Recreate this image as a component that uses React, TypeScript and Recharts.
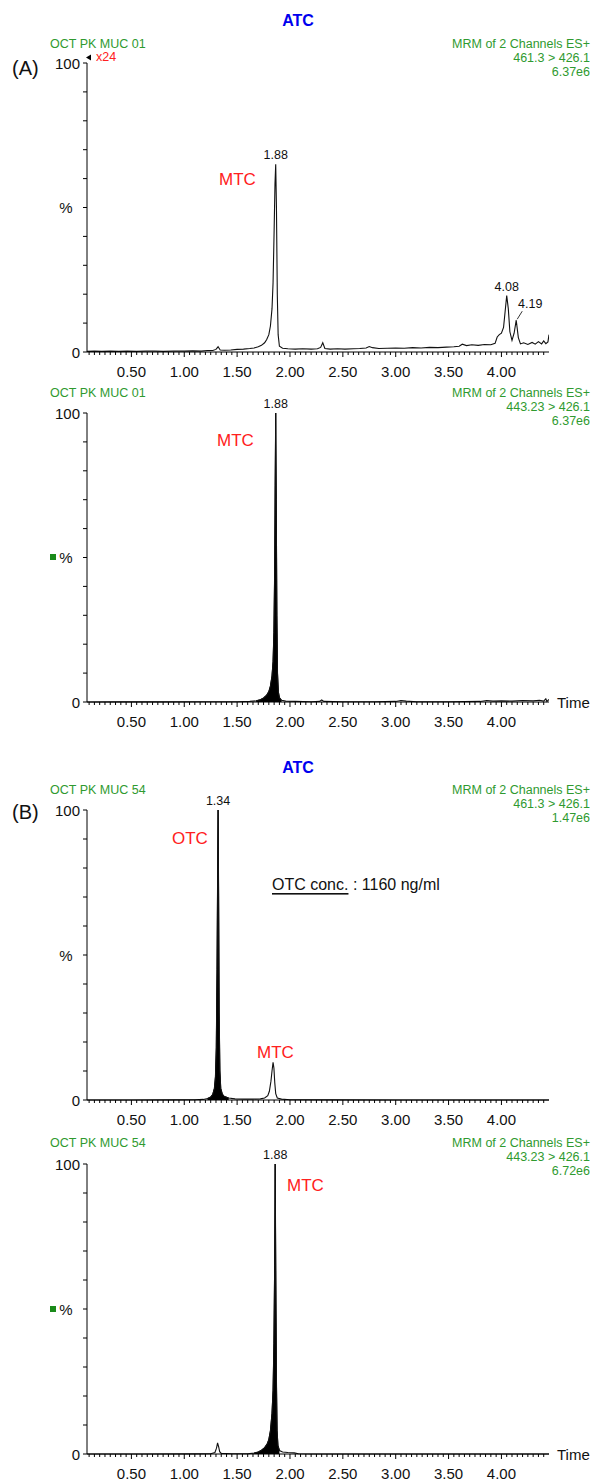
import React from "react";
import { ComposedChart, Line, Area, XAxis, YAxis, LabelList } from "recharts";

const FONT = "'Liberation Sans', Arial, Helvetica, sans-serif";
const GREEN = "#2f9a2f";
const RED = "#ff2020";

// axis ticks
const timeLabels = [0.5, 1.0, 1.5, 2.0, 2.5, 3.0, 3.5, 4.0];
const minorTicks = Array.from({ length: 87 }, (_, i) => Math.round((0.1 + i * 0.05) * 100) / 100);
const yTicks = [0, 10, 20, 30, 40, 50, 60, 70, 80, 90, 100];
const leaderLabels = ["4.19"];

// (A) OCT PK MUC 01, 461.3 > 426.1 (x24)  [time, %]
const a1Trace = [
  [0.08, 0.2], [0.15, 0.3], [0.22, 0.2], [0.3, 0.3], [0.38, 0.2], [0.46, 0.3], [0.55, 0.2],
  [0.64, 0.3], [0.72, 0.3], [0.8, 0.2], [0.9, 0.3], [1.0, 0.3], [1.08, 0.4], [1.16, 0.3],
  [1.22, 0.5], [1.27, 0.5], [1.3, 0.9], [1.32, 1.8], [1.34, 0.7], [1.38, 0.6], [1.44, 0.7],
  [1.5, 0.9], [1.56, 1.0], [1.62, 1.2], [1.66, 1.4], [1.7, 1.8], [1.73, 2.3], [1.76, 3.2],
  [1.78, 4.3], [1.8, 6], [1.815, 9], [1.83, 15], [1.84, 24], [1.85, 42], [1.858, 58],
  [1.865, 65], [1.872, 50], [1.88, 20], [1.888, 6], [1.9, 2.0], [1.93, 1.3], [1.98, 1.1],
  [2.05, 1.0], [2.12, 1.1], [2.2, 1.0], [2.26, 1.1], [2.29, 1.6], [2.31, 3.2], [2.33, 1.2],
  [2.38, 1.0], [2.45, 1.1], [2.52, 1.0], [2.6, 1.1], [2.66, 1.2], [2.72, 1.4], [2.75, 1.9],
  [2.78, 1.5], [2.84, 1.2], [2.92, 1.3], [3.0, 1.4], [3.08, 1.3], [3.16, 1.5], [3.24, 1.4],
  [3.32, 1.6], [3.4, 1.5], [3.48, 1.7], [3.55, 1.8], [3.6, 2.0], [3.63, 2.7], [3.67, 2.2],
  [3.72, 2.5], [3.78, 2.3], [3.84, 2.6], [3.9, 2.5], [3.94, 3.0], [3.96, 5.2], [3.98, 6.0],
  [4.0, 6.5], [4.02, 8.5], [4.035, 14], [4.05, 19.5], [4.065, 15], [4.08, 7], [4.1, 4],
  [4.12, 6.5], [4.14, 11], [4.16, 5], [4.18, 2.8], [4.21, 3.2], [4.25, 2.6], [4.29, 3.3],
  [4.32, 2.7], [4.35, 3.6], [4.38, 2.8], [4.4, 3.8], [4.42, 2.9], [4.44, 3.5], [4.45, 6],
];
const a1Peaks: [string, number][] = [["1.88", 1.865], ["4.08", 4.05], ["4.19", 4.14]];

// (A) OCT PK MUC 01, 443.23 > 426.1
const a2Trace = [
  [0.08, 0], [0.4, 0.05], [0.8, 0.05], [1.2, 0.1], [1.5, 0.1], [1.62, 0.2], [1.68, 0.4],
  [1.72, 0.8], [1.75, 1.4], [1.78, 2.4], [1.8, 3.6], [1.815, 5.5], [1.83, 9], [1.84, 14],
  [1.848, 24], [1.855, 45], [1.86, 75], [1.865, 100], [1.87, 70], [1.876, 30], [1.882, 10],
  [1.89, 3.5], [1.9, 1.5], [1.92, 0.6], [1.96, 0.3], [2.05, 0.2], [2.2, 0.1], [2.28, 0.2],
  [2.3, 0.7], [2.32, 0.2], [2.5, 0.1], [2.8, 0.1], [3.0, 0.2], [3.05, 0.5], [3.1, 0.3],
  [3.2, 0.1], [3.5, 0.1], [3.8, 0.2], [3.86, 0.5], [3.92, 0.3], [4.0, 0.4], [4.1, 0.3],
  [4.2, 0.5], [4.3, 0.4], [4.36, 0.6], [4.4, 0.3], [4.42, 1.1], [4.43, 0.2], [4.45, 0.9],
];
const a2Peaks: [string, number][] = [["1.88", 1.865]];
const a2Filled = [1.68, 1.92];

// (B) OCT PK MUC 54, 461.3 > 426.1
const b1Trace = [
  [0.08, 0], [0.5, 0], [0.9, 0.05], [1.1, 0.1], [1.18, 0.2], [1.22, 0.5], [1.25, 1.0],
  [1.27, 2], [1.285, 4], [1.295, 8], [1.303, 18], [1.31, 45], [1.316, 80], [1.32, 100],
  [1.325, 70], [1.33, 30], [1.337, 10], [1.345, 4], [1.36, 2], [1.38, 1.2], [1.42, 0.7],
  [1.48, 0.4], [1.56, 0.3], [1.65, 0.3], [1.72, 0.4], [1.76, 0.7], [1.79, 1.5], [1.805, 3],
  [1.82, 6.5], [1.83, 10], [1.84, 13], [1.848, 11], [1.856, 6], [1.865, 2.2], [1.88, 0.7],
  [1.92, 0.3], [2.0, 0.1], [2.4, 0.05], [3.0, 0], [4.45, 0],
];
const b1Peaks: [string, number][] = [["1.34", 1.32]];
const b1Filled = [1.2, 1.42];

// (B) OCT PK MUC 54, 443.23 > 426.1
const b2Trace = [
  [0.08, 0], [0.6, 0], [1.1, 0.05], [1.25, 0.1], [1.29, 0.5], [1.305, 2], [1.315, 3.8],
  [1.325, 2.5], [1.335, 0.8], [1.35, 0.2], [1.45, 0.1], [1.6, 0.1], [1.66, 0.3], [1.7, 0.7],
  [1.73, 1.3], [1.76, 2.2], [1.785, 3.5], [1.8, 5], [1.815, 8], [1.83, 14], [1.84, 22],
  [1.848, 38], [1.855, 65], [1.86, 100], [1.866, 60], [1.872, 25], [1.878, 8], [1.886, 3],
  [1.9, 1.2], [1.93, 0.7], [1.98, 0.5], [2.04, 0.4], [2.08, 0.1], [2.2, 0], [4.45, 0],
];
const b2Peaks: [string, number][] = [["1.88", 1.86]];
const b2Filled = [1.64, 1.92];

const buildRows = (trace: number[][], peaks: [string, number][], filled?: number[]) =>
  trace.map(([t, y]) => {
    const pk = peaks.find((p) => p[1] === t);
    return {
      t,
      y,
      f: filled && t >= filled[0] && t <= filled[1] ? y : null,
      peak: pk ? pk[0] : undefined,
    };
  });

const XTick = (props: any) => {
  const { x, y, payload } = props;
  const v = payload.value;
  const major = timeLabels.some((m) => Math.abs(m - v) < 1e-6);
  return (
    <g>
      <line x1={x} x2={x} y1={y} y2={y + (major ? 5 : 3)} stroke="#000" strokeWidth={1} />
      {major && (
        <text x={x} y={y + 19} textAnchor="middle" dominantBaseline="central" fontSize={15} fontFamily={FONT} fill="#111">
          {v.toFixed(2)}
        </text>
      )}
    </g>
  );
};

const YTick = (props: any) => {
  const { x, y, payload } = props;
  const v = payload.value;
  return (
    <g>
      <line x1={x - 4} x2={x} y1={y} y2={y} stroke="#000" strokeWidth={1} />
      {(v === 0 || v === 100) && (
        <text x={x - 7} y={y} textAnchor="end" dominantBaseline="central" fontSize={15} fontFamily={FONT} fill="#111">
          {v}
        </text>
      )}
      {v === 50 && (
        <text x={x - 21} y={y} textAnchor="middle" dominantBaseline="central" fontSize={15} fontFamily={FONT} fill="#111">
          %
        </text>
      )}
    </g>
  );
};

const peakLabel = (props: any) => {
  const { x, y, value } = props;
  if (!value) return null;
  if (leaderLabels.includes(value)) {
    return (
      <g>
        <line x1={x + 1} y1={y - 1} x2={x + 6} y2={y - 9} stroke="#000" strokeWidth={0.8} />
        <text x={x + 14} y={y - 16} textAnchor="middle" dominantBaseline="central" fontSize={12.5} fontFamily={FONT} fill="#111">
          {value}
        </text>
      </g>
    );
  }
  return (
    <text x={x} y={y - 9} textAnchor="middle" dominantBaseline="central" fontSize={12.5} fontFamily={FONT} fill="#111">
      {value}
    </text>
  );
};

type PanelProps = { top: number; h: number; trace: number[][]; peaks: [string, number][]; filled?: number[] };

const PAD = 22;

const Panel = ({ top, h, trace, peaks, filled }: PanelProps) => {
  const rows = buildRows(trace, peaks, filled);
  return (
    <div style={{ position: "absolute", left: 0, top: top - PAD }}>
      <ComposedChart width={595} height={h + PAD + 30} data={rows} margin={{ top: PAD, right: 46, bottom: 0, left: 47 }}>
        <XAxis
          dataKey="t"
          type="number"
          domain={[0.08, 4.45]}
          allowDataOverflow
          ticks={minorTicks}
          interval={0}
          tick={<XTick />}
          tickLine={false}
          tickSize={0}
          tickMargin={0}
          height={30}
          axisLine={{ stroke: "#000", strokeWidth: 1 }}
        />
        <YAxis
          type="number"
          domain={[0, 100]}
          ticks={yTicks}
          interval={0}
          tick={<YTick />}
          tickLine={false}
          tickSize={0}
          tickMargin={0}
          width={40}
          axisLine={{ stroke: "#000", strokeWidth: 1 }}
        />
        {filled && (
          <Area
            dataKey="f"
            type="linear"
            stroke="#000"
            strokeWidth={1}
            fill="#000"
            fillOpacity={1}
            connectNulls={false}
            isAnimationActive={false}
            dot={false}
            activeDot={false}
          />
        )}
        <Line dataKey="y" type="linear" stroke="#111" strokeWidth={1.1} dot={false} activeDot={false} isAnimationActive={false}>
          <LabelList dataKey="peak" content={peakLabel} />
        </Line>
      </ComposedChart>
    </div>
  );
};

const txt = (x: number, y: number, s: string, size: number, color: string, anchor: "start" | "middle" | "end" = "start", bold = false) => (
  <text x={x} y={y} fontSize={size} fill={color} textAnchor={anchor} dominantBaseline="central" fontFamily={FONT} fontWeight={bold ? 700 : 400}>
    {s}
  </text>
);

const header = (y: number, left: string, line2: string, line3: string) => (
  <g>
    {txt(50, y, left, 12.5, GREEN)}
    {txt(590, y, "MRM of 2 Channels ES+", 12.5, GREEN, "end")}
    {txt(590, y + 14, line2, 12.5, GREEN, "end")}
    {txt(590, y + 28, line3, 12.5, GREEN, "end")}
  </g>
);

export default function App() {
  return (
    <div style={{ position: "absolute", left: 0, top: 0, width: 595, height: 1480, background: "#fff", overflow: "hidden" }}>
      <Panel top={63} h={289} trace={a1Trace} peaks={a1Peaks} />
      <Panel top={413} h={289} trace={a2Trace} peaks={a2Peaks} filled={a2Filled} />
      <Panel top={810} h={290} trace={b1Trace} peaks={b1Peaks} filled={b1Filled} />
      <Panel top={1164} h={290} trace={b2Trace} peaks={b2Peaks} filled={b2Filled} />
      <svg width={595} height={1480} style={{ position: "absolute", left: 0, top: 0, pointerEvents: "none" }}>
        {txt(298, 20, "ATC", 16, "#0000ee", "middle", true)}
        {txt(12, 68, "(A)", 20, "#111")}
        {header(44, "OCT PK MUC 01", "461.3 > 426.1", "6.37e6")}
        <polygon points="86,57.5 91,54.5 91,60.5" fill="#000" />
        {txt(96, 57, "x24", 12.5, RED)}
        {txt(219, 179, "MTC", 17, RED)}

        {header(393, "OCT PK MUC 01", "443.23 > 426.1", "6.37e6")}
        {txt(217, 440, "MTC", 17, RED)}
        <rect x={50} y={554} width={6} height={6} fill="#1a8a1a" />
        {txt(557, 702, "Time", 15, "#111")}

        {txt(298, 767, "ATC", 16, "#0000ee", "middle", true)}
        {txt(12, 812, "(B)", 20, "#111")}
        {header(790, "OCT PK MUC 54", "461.3 > 426.1", "1.47e6")}
        {txt(172, 838, "OTC", 17, RED)}
        {txt(257, 1052, "MTC", 17, RED)}
        <text x={272} y={884} fontSize={16} fill="#111" dominantBaseline="central" fontFamily={FONT}>
          <tspan style={{ textDecoration: "underline" }}>OTC conc.</tspan>
          <tspan> : 1160 ng/ml</tspan>
        </text>

        {header(1143, "OCT PK MUC 54", "443.23 > 426.1", "6.72e6")}
        {txt(287, 1185, "MTC", 17, RED)}
        <rect x={50} y={1306} width={6} height={6} fill="#1a8a1a" />
        {txt(557, 1454, "Time", 15, "#111")}
      </svg>
    </div>
  );
}
